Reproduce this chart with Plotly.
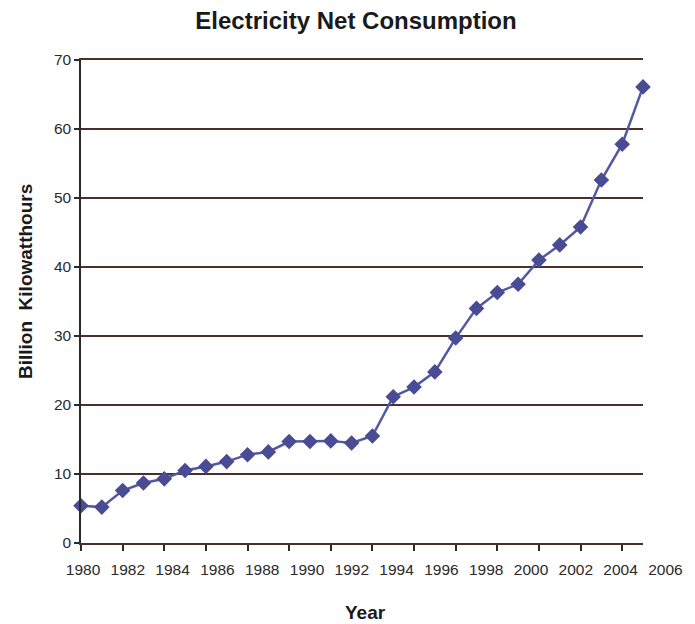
import plotly.graph_objects as go

years = list(range(1980, 2008))
consumption = [5.4, 5.2, 7.6, 8.7, 9.3, 10.5, 11.1, 11.8, 12.8, 13.2,
               14.7, 14.7, 14.8, 14.5, 15.5, 21.2, 22.6, 24.8, 29.7, 34.0,
               36.3, 37.5, 41.0, 43.2, 45.8, 52.6, 57.8, 66.1]
tick_years = list(range(1980, 2008, 2))
label_years = list(range(1980, 2008, 2))
y_ticks = [0, 10, 20, 30, 40, 50, 60, 70]

W, H = 695, 624
L, R, T, B = 81, 0, 60, 81
plot_w = W - L - R
data_dom_end = (643 - L) / plot_w

FONT = "Liberation Sans, Arial, sans-serif"
DARK = "#2a2a2a"
GRID = "#4b2f2a"

fig = go.Figure()
# carrier trace for the label axis (drawn on a hidden y axis)
fig.add_trace(go.Scatter(
    x=label_years, y=[None] * len(label_years), xaxis="x2", yaxis="y2",
    mode="markers", showlegend=False, hoverinfo="skip",
))
fig.add_trace(go.Scatter(
    x=years, y=consumption, mode="lines+markers",
    line=dict(color="#5259a0", width=2.5),
    marker=dict(symbol="diamond", size=12, color="#4a4b95"),
    showlegend=False, cliponaxis=False,
))

px_per_year = 22.4
x2_start = 1980 - 2 / px_per_year
x2_end = x2_start + plot_w / px_per_year

fig.update_layout(
    width=W, height=H,
    margin=dict(l=L, r=R, t=T, b=B),
    paper_bgcolor="white", plot_bgcolor="rgba(0,0,0,0)",
    font=dict(family=FONT, color=DARK),
    title=dict(text="<b>Electricity Net Consumption</b>",
               x=356 / W, xref="container", xanchor="center",
               y=1 - 21 / H, yref="container", yanchor="middle",
               font=dict(size=24, color="#1a1a1a", family=FONT)),
    xaxis=dict(domain=[0, data_dom_end], range=[1980, 2007],
               tickvals=tick_years, showticklabels=False,
               ticks="outside", ticklen=6, tickcolor=DARK, tickwidth=1.5,
               showline=True, mirror=True, linecolor=GRID, linewidth=1.5,
               showgrid=False, zeroline=False),
    xaxis2=dict(domain=[0, 1], range=[x2_start, x2_end], anchor="y2",
                tickvals=label_years, ticktext=[str(v) for v in label_years],
                ticks="outside", ticklen=12, tickcolor="rgba(0,0,0,0)",
                showline=False, showgrid=False, zeroline=False,
                tickfont=dict(size=15.5, color=DARK)),
    yaxis=dict(domain=[0, 1], range=[0, 70], tickvals=y_ticks,
               ticks="outside", ticklen=5, tickcolor=DARK, tickwidth=1.5,
               showline=True, linecolor=DARK, linewidth=1.5,
               showgrid=True, gridcolor=GRID, gridwidth=1.5,
               zeroline=False, tickfont=dict(size=15.5, color=DARK)),
    yaxis2=dict(domain=[0, 1], range=[0, 70], anchor="x2", visible=False,
                showgrid=False),
    annotations=[
        dict(text="<b>Year</b>", xref="paper", yref="paper",
             x=(365 - L) / plot_w, y=(543 - 612) / (H - T - B),
             xanchor="center", yanchor="middle", showarrow=False,
             font=dict(size=19, color="#1a1a1a", family=FONT)),
        dict(text="<b>Billion  Kilowatthours</b>", xref="paper", yref="paper",
             x=(25 - L) / plot_w, y=(543 - 282) / (H - T - B),
             xanchor="center", yanchor="middle", showarrow=False, textangle=-90,
             font=dict(size=19, color="#1a1a1a", family=FONT)),
    ],
)

fig.write_html("out.html")
